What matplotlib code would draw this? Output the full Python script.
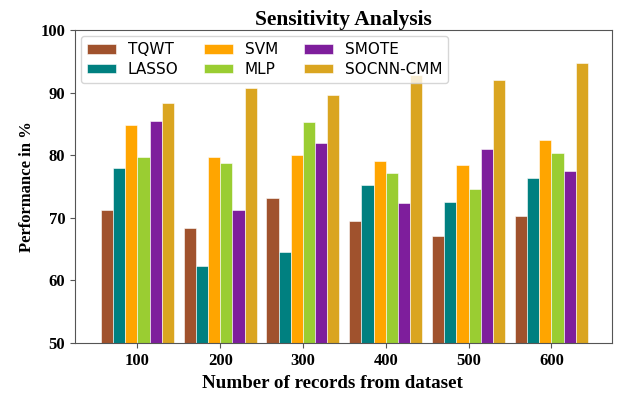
import matplotlib
matplotlib.use("Agg")
import matplotlib.pyplot as plt
import numpy as np

records = ["100", "200", "300", "400", "500", "600"]
methods = ["TQWT", "LASSO", "SVM", "MLP", "SMOTE", "SOCNN-CMM"]
colors = ["#A0522D", "#008080", "#FFA500", "#9ACD32", "#7E1E9C", "#DAA520"]

tqwt = [71.2, 68.3, 73.2, 69.5, 67.0, 70.3]
lasso = [78.0, 62.3, 64.6, 75.2, 72.5, 76.4]
svm = [84.8, 79.7, 80.1, 79.1, 78.4, 82.5]
mlp = [79.7, 78.7, 85.3, 77.1, 74.6, 80.4]
smote = [85.5, 71.2, 81.9, 72.4, 81.0, 77.5]
socnn = [88.4, 90.8, 89.6, 92.8, 92.0, 94.7]
series = [tqwt, lasso, svm, mlp, smote, socnn]

serif = ["Liberation Serif", "DejaVu Serif"]

fig = plt.figure(figsize=(6.19, 3.95), dpi=100)
ax = fig.add_axes([0.121, 0.132, 0.868, 0.792])

x = np.arange(len(records))
width = 0.147
for i, (name, values, color) in enumerate(zip(methods, series, colors)):
    offset = (i - 2.5) * width
    ax.bar(x + offset, values, width, label=name, color=color,
           edgecolor="white", linewidth=0.4)

ax.set_ylim(50, 100)
ax.set_xlim(-0.755, 5.735)
ax.set_xticks(x)
ax.set_xticklabels(records)
ax.set_yticks(range(50, 101, 10))
for label in ax.get_xticklabels() + ax.get_yticklabels():
    label.set_fontfamily(serif)
    label.set_fontweight("bold")
    label.set_fontsize(12)

for spine in ax.spines.values():
    spine.set_color("#555555")
ax.tick_params(colors="#555555", labelcolor="black")

ax.set_title("Sensitivity Analysis", fontfamily=serif, fontweight="bold",
             fontsize=15.5, pad=3)
ax.set_xlabel("Number of records from dataset", fontfamily=serif,
              fontweight="bold", fontsize=13.7)
ax.xaxis.set_label_coords(0.479, -0.104)
ax.set_ylabel("Performance in %", fontfamily=serif, fontweight="bold",
              fontsize=12)

ax.legend(loc="upper left", ncol=3, fontsize=11, framealpha=0.8,
          handlelength=1.9, handleheight=0.6, handletextpad=0.75,
          columnspacing=1.7, borderaxespad=0.4, labelspacing=0.3)

fig.savefig("out.png", dpi=100)
